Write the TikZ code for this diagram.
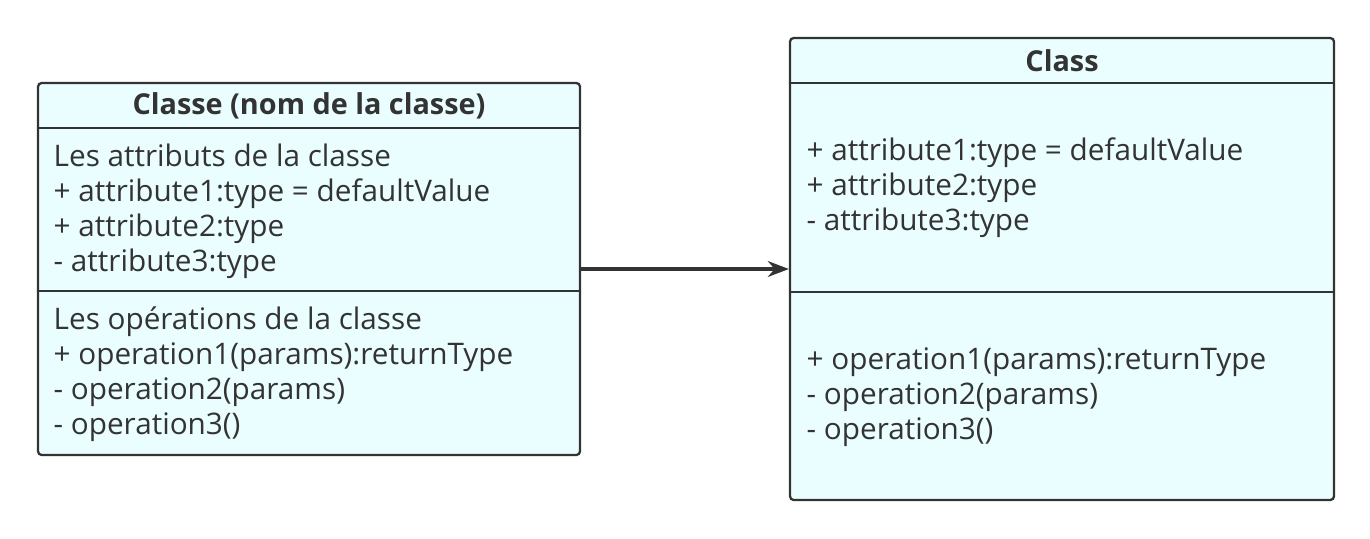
\documentclass[tikz,border=0pt]{standalone}
\usepackage{fontspec}
\setmainfont{Open Sans}
\usepackage{xcolor}
\usetikzlibrary{arrows.meta, positioning}
\definecolor{boxfill}{HTML}{EBFEFF}
\definecolor{boxline}{HTML}{333333}

\begin{document}
\begin{tikzpicture}[x=0.02cm, y=-0.02cm, thick]
    \tikzset{
        classbox/.style = {rectangle, draw=boxline, line width=1.3pt, fill=boxfill, rounded corners=2pt, inner sep=0pt},
        title/.style = {font=\fontsize{16.4}{20}\selectfont\bfseries, text=boxline},
        members/.style = {anchor=west, align=left, inner sep=0pt, font=\fontsize{16.9}{19.9}\selectfont, text=boxline},
        sep/.style = {draw=boxline, line width=1.3pt},
        link/.style = {draw=boxline, line width=1.8pt, -{Stealth[length=12pt, width=9pt]}}
    }
    \useasboundingbox (0,0) rectangle (1370,538);

    % left class
    \node [classbox, minimum width=10.84cm, minimum height=7.44cm] (classe) at (309,269) {};
    \node [title] (classeTitle) at (309,106) {Classe (nom de la classe)};
    \draw [sep] (38,128) -- (580,128);
    \draw [sep] (38,291) -- (580,291);
    \node [members] (classeAttr) at (53,211) {Les attributs de la classe\\+ attribute1:type = defaultValue\\+ attribute2:type\\- attribute3:type};
    \node [members] (classeOps) at (53,374.5) {Les opérations de la classe\\+ operation1(params):returnType\\- operation2(params)\\- operation3()};

    % right class
    \node [classbox, minimum width=10.88cm, minimum height=9.24cm] (class) at (1062,269) {};
    \node [title] (classTitle) at (1062,61) {Class};
    \draw [sep] (790,83) -- (1334,83);
    \draw [sep] (790,292) -- (1334,292);
    \node [members] (classAttr) at (806,188) {+ attribute1:type = defaultValue\\+ attribute2:type\\- attribute3:type};
    \node [members] (classOps) at (806,397.5) {+ operation1(params):returnType\\- operation2(params)\\- operation3()};

    \path [link] (classe) -- (class);
\end{tikzpicture}
\end{document}
